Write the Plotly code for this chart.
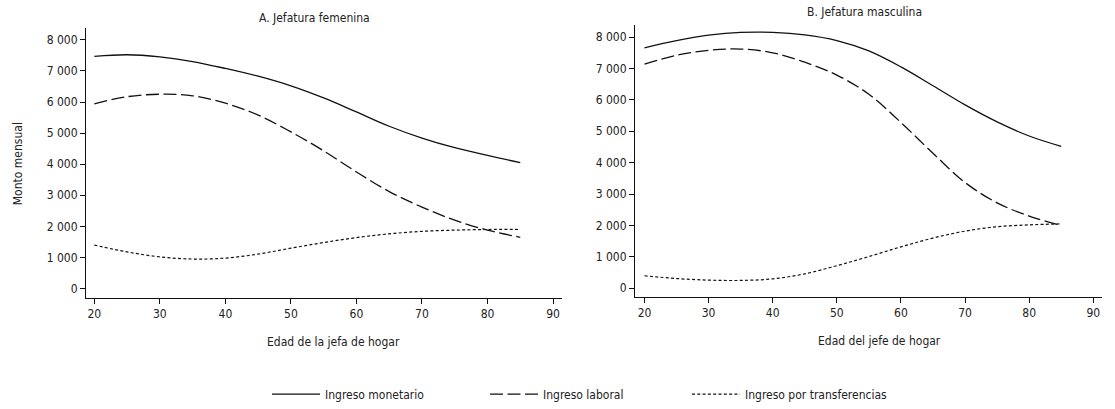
import plotly.graph_objects as go

ages = [20, 25, 30, 35, 40, 45, 50, 55, 60, 65, 70, 75, 80, 85]

# A. Jefatura femenina
fem_monetario = [7470, 7520, 7450, 7300, 7080, 6830, 6520, 6130, 5680, 5220, 4840, 4530, 4280, 4050]
fem_laboral = [5940, 6170, 6250, 6200, 5960, 5580, 5040, 4430, 3750, 3120, 2620, 2200, 1880, 1650]
fem_transfer = [1400, 1180, 1020, 950, 980, 1110, 1300, 1480, 1640, 1760, 1840, 1880, 1900, 1900]

# B. Jefatura masculina
mas_monetario = [7660, 7890, 8060, 8150, 8150, 8070, 7890, 7560, 7050, 6450, 5840, 5300, 4850, 4520]
mas_laboral = [7140, 7420, 7580, 7620, 7500, 7200, 6790, 6180, 5280, 4300, 3370, 2720, 2300, 2000]
mas_transfer = [400, 310, 260, 250, 300, 460, 720, 1010, 1320, 1600, 1820, 1960, 2020, 2050]

series_names = ["Ingreso monetario", "Ingreso laboral", "Ingreso por transferencias"]
x_ticks = [20, 30, 40, 50, 60, 70, 80, 90]
y_ticks = [0, 1000, 2000, 3000, 4000, 5000, 6000, 7000, 8000]
y_ticklabels = ["0", "1 000", "2 000", "3 000", "4 000", "5 000", "6 000", "7 000", "8 000"]

W, H = 1115, 409
FONT = "DejaVu Sans Condensed, Liberation Sans Narrow, sans-serif"
TXT = "#222222"
FS = 12

styles = [dict(color="#111111", width=1.3, dash="solid"),
          dict(color="#111111", width=1.3, dash="13px,4.5px"),
          dict(color="#111111", width=1.2, dash="3px,2.3px")]

fig = go.Figure()
legends = ["legend", "legend2", "legend3"]
for i, (ys, name) in enumerate(zip([fem_monetario, fem_laboral, fem_transfer], series_names)):
    fig.add_trace(go.Scatter(x=ages, y=ys, mode="lines", line=dict(shape="spline", **styles[i]),
                             name=name, xaxis="x", yaxis="y", legend=legends[i], showlegend=True))
for i, (ys, name) in enumerate(zip([mas_monetario, mas_laboral, mas_transfer], series_names)):
    fig.add_trace(go.Scatter(x=ages, y=ys, mode="lines", line=dict(shape="spline", **styles[i]),
                             name=name, xaxis="x2", yaxis="y2", showlegend=False))

def px_x(p):
    return p / W

def px_y(p):
    return 1 - p / H

axis_common = dict(showline=True, linecolor="#111111", linewidth=1, ticks="outside",
                   ticklen=5, tickcolor="#111111", showgrid=False, zeroline=False,
                   tickfont=dict(family=FONT, size=FS, color=TXT))

fig.update_layout(
    width=W, height=H,
    margin=dict(l=0, r=0, t=0, b=0),
    paper_bgcolor="white", plot_bgcolor="white",
    font=dict(family=FONT, size=FS, color=TXT),
    xaxis=dict(domain=[px_x(86), px_x(562)], range=[18.73, 91.37], tickvals=x_ticks,
               anchor="y", **axis_common),
    yaxis=dict(domain=[px_y(299), px_y(28)], range=[-288, 8384], tickvals=y_ticks,
               ticktext=y_ticklabels, anchor="x", **axis_common),
    xaxis2=dict(domain=[px_x(635), px_x(1102)], range=[18.52, 91.36], tickvals=x_ticks,
                anchor="y2", **axis_common),
    yaxis2=dict(domain=[px_y(298), px_y(25)], range=[-263, 8389], tickvals=y_ticks,
                ticktext=y_ticklabels, anchor="x2", **axis_common),
    showlegend=True,
)

leg_common = dict(orientation="h", bgcolor="rgba(0,0,0,0)", font=dict(family=FONT, size=FS, color=TXT),
                  xanchor="left", yanchor="middle", itemwidth=48)
fig.update_layout(
    legend=dict(x=px_x(267), y=px_y(396), **leg_common),
    legend2=dict(x=px_x(485), y=px_y(396), **leg_common),
    legend3=dict(x=px_x(687), y=px_y(396), **leg_common),
)

annots = [
    dict(text="A. Jefatura femenina", x=px_x(314), y=px_y(18)),
    dict(text="B. Jefatura masculina", x=px_x(864), y=px_y(12)),
    dict(text="Edad de la jefa de hogar", x=px_x(333), y=px_y(344)),
    dict(text="Edad del jefe de hogar", x=px_x(879), y=px_y(343)),
]
for a in annots:
    fig.add_annotation(xref="paper", yref="paper", showarrow=False, xanchor="center", yanchor="middle",
                       font=dict(family=FONT, size=FS, color=TXT), **a)
fig.add_annotation(text="Monto mensual", xref="paper", yref="paper", x=px_x(18), y=px_y(165),
                   textangle=-90, showarrow=False, xanchor="center", yanchor="middle",
                   font=dict(family=FONT, size=FS, color=TXT))

fig.write_html("out.html", config={"displayModeBar": False},
               post_script="document.body.style.margin='0';")
